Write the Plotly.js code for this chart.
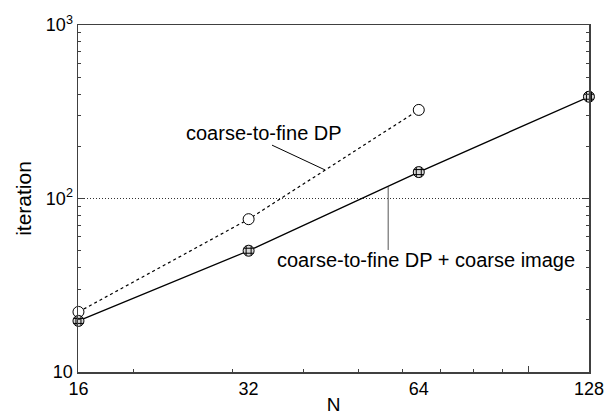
<!DOCTYPE html>
<html><head><meta charset="utf-8">
<script src="https://cdn.plot.ly/plotly-3.0.1.min.js"></script>
<style>html,body{margin:0;padding:0;background:#fff}#chart{width:609px;height:415px}</style>
</head><body><div id="chart"></div>
<script>
// ---- data ----
const N_dp = [16, 32, 64];
const iter_dp = [22.2, 76, 324];
const N_dpImg = [16, 32, 64, 128];
const iter_dpImg = [19.7, 50, 142, 386];
const xTickVals = [16, 32, 64, 128];
const xTickText = ['16', '32', '64', '128'];
const yTickVals = [10, 100, 1000];
const yTickText = ['10', '10<sup>2</sup>', '10<sup>3</sup>'];
const xMinorTicks = [20, 30, 40, 50, 60, 70, 80, 90];
const xMajorTicks = [100];
const yMinorTicks = [20, 30, 40, 50, 60, 70, 80, 90, 200, 300, 400, 500, 600, 700, 800, 900];
const labelDP = 'coarse-to-fine DP';
const labelDPImg = 'coarse-to-fine DP + coarse image';
const xTitle = 'N';
const yTitle = 'iteration';
// annotation anchors (data coords): [textX, textY, leaderX0, leaderY0, leaderX1, leaderY1]
const annDP = [34.0, 238, 35.2, 203, 43.7, 146];
const annDPImg = [65.9, 44.2, 56.5, 116.4, 56.5, 50.5];

const FONT = 'Liberation Sans, Arial, Helvetica, sans-serif';
const AX = '#404040';
const xRange = [Math.log10(15.97), Math.log10(128.03)];

const traces = [
  {x: N_dp, y: iter_dp, type: 'scatter', mode: 'lines+markers', cliponaxis: false,
   line: {color: '#000', width: 1.2, dash: 'dot'},
   marker: {symbol: 'circle', size: 11, color: '#fff', line: {color: '#000', width: 1}},
   showlegend: false, hoverinfo: 'none'},
  {x: N_dpImg, y: iter_dpImg, type: 'scatter', mode: 'lines+markers', cliponaxis: false,
   line: {color: '#000', width: 1.3},
   marker: {symbol: 'circle', size: 11, color: '#d8d8d8', line: {color: '#000', width: 1}},
   showlegend: false, hoverinfo: 'none'},
  {x: N_dpImg, y: iter_dpImg, type: 'scatter', mode: 'markers', cliponaxis: false,
   marker: {symbol: 'hash-open', size: 10, color: '#000', line: {color: '#000', width: 1}},
   showlegend: false, hoverinfo: 'none'},
  {x: [N_dp[1]], y: [iter_dp[1]], xaxis: 'x2', type: 'scatter', mode: 'markers',
   marker: {opacity: 0}, showlegend: false, hoverinfo: 'none'}
];

const layout = {
  width: 609, height: 415,
  margin: {l: 78, r: 20, t: 25, b: 43},
  paper_bgcolor: '#fff', plot_bgcolor: '#fff',
  font: {family: FONT, size: 18, color: '#000'},
  showlegend: false,
  xaxis: {
    type: 'log', range: xRange,
    tickvals: xTickVals, ticktext: xTickText, ticks: '',
    showline: true, linecolor: AX, linewidth: 1.5, mirror: true,
    showgrid: false, zeroline: false,
    tickfont: {family: FONT, size: 18},
    title: {text: xTitle, font: {family: FONT, size: 19}, standoff: 0}
  },
  xaxis2: {
    type: 'log', range: xRange, overlaying: 'x',
    tickvals: xMajorTicks, ticktext: [''], ticks: 'inside', ticklen: 6, tickcolor: AX, tickwidth: 1,
    showticklabels: false, showgrid: false, zeroline: false, showline: false,
    minor: {tickvals: xMinorTicks, ticks: 'inside', ticklen: 3, tickcolor: AX, tickwidth: 1, showgrid: false}
  },
  yaxis: {
    type: 'log', range: [1, 3],
    tickvals: yTickVals, ticktext: yTickText, ticks: 'inside', ticklen: 6, tickcolor: AX, tickwidth: 1,
    showline: true, linecolor: AX, linewidth: 1.5, mirror: 'ticks',
    showgrid: true, gridcolor: '#333', gridwidth: 1, griddash: '1px,2px', zeroline: false,
    minor: {tickvals: yMinorTicks, ticks: 'inside', ticklen: 3, tickcolor: AX, tickwidth: 1, showgrid: false},
    tickfont: {family: FONT, size: 18},
    title: {text: yTitle, font: {family: FONT, size: 21}, standoff: 8}
  },
  shapes: [
    {type: 'line', xref: 'x', yref: 'y', x0: annDP[2], y0: annDP[3], x1: annDP[4], y1: annDP[5],
     line: {color: '#000', width: 1}},
    {type: 'line', xref: 'x', yref: 'y', x0: annDPImg[2], y0: annDPImg[3], x1: annDPImg[4], y1: annDPImg[5],
     line: {color: '#555', width: 1}}
  ],
  annotations: [
    {xref: 'x', yref: 'y', x: Math.log10(annDP[0]), y: Math.log10(annDP[1]), text: labelDP,
     showarrow: false, font: {family: FONT, size: 20, color: '#000'}},
    {xref: 'x', yref: 'y', x: Math.log10(annDPImg[0]), y: Math.log10(annDPImg[1]), text: labelDPImg,
     showarrow: false, font: {family: FONT, size: 20, color: '#000'}}
  ]
};

Plotly.newPlot('chart', traces, layout, {displayModeBar: false, staticPlot: true});
</script>
</body></html>
